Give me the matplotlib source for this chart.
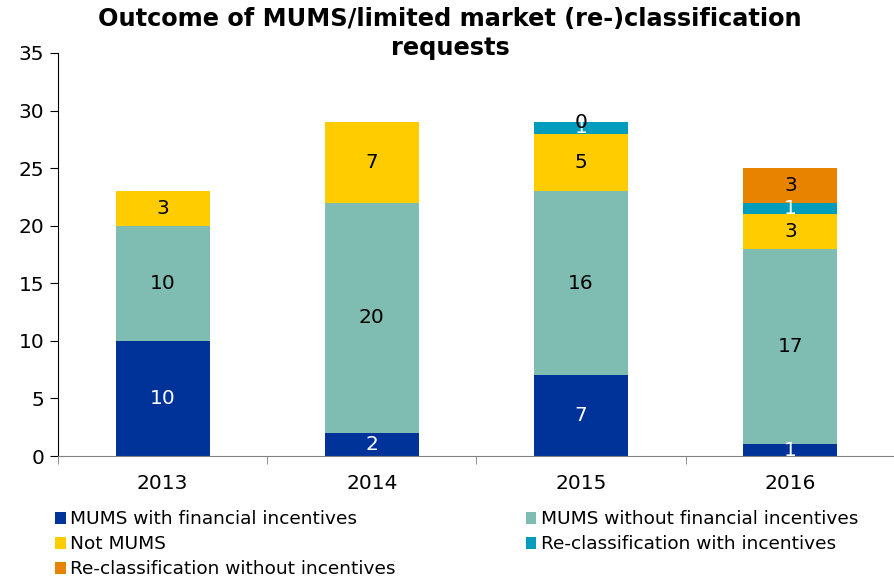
import matplotlib
matplotlib.use("Agg")
import matplotlib.pyplot as plt
import numpy as np

years = ["2013", "2014", "2015", "2016"]
series_names = ["MUMS with financial incentives", "MUMS without financial incentives",
                "Not MUMS", "Re-classification with incentives", "Re-classification without incentives"]
mums_fin = [10, 2, 7, 1]
mums_nofin = [10, 20, 16, 17]
not_mums = [3, 7, 5, 3]
reclass_inc = [0, 0, 1, 1]
reclass_noinc = [0, 0, 0, 3]
# which labels are shown (None = not labelled)
labels_shown = [
    [10, 2, 7, 1],
    [10, 20, 16, 17],
    [3, 7, 5, 3],
    [None, None, 1, 1],
    [None, None, 0, 3],
]
yticks = [0, 5, 10, 15, 20, 25, 30, 35]

colors = ["#003399", "#7fbcb1", "#ffcc00", "#009cbb", "#e88300"]
label_colors = ["white", "black", "black", "white", "black"]

W, H = 895, 581
fig = plt.figure(figsize=(W / 100, H / 100), dpi=100)
ax = fig.add_axes([58 / W, (H - 456) / H, (W - 58) / W, (456 - 53) / H])

x = np.arange(len(years))
data = [mums_fin, mums_nofin, not_mums, reclass_inc, reclass_noinc]
bottom = np.zeros(len(years))
handles = []
for i, (vals, name) in enumerate(zip(data, series_names)):
    v = np.array(vals, dtype=float)
    b = ax.bar(x, v, 0.45, bottom=bottom, color=colors[i], label=name, linewidth=0)
    handles.append(b)
    for j in range(len(years)):
        lab = labels_shown[i][j]
        if lab is not None:
            ax.text(x[j], bottom[j] + v[j] / 2, str(lab), ha="center", va="center",
                    fontsize=14.5, color=label_colors[i], zorder=5)
    bottom += v

ax.set_xlim(-0.5, -0.5 + (W - 58) / 211.0)
ax.set_ylim(0, 35)
ax.set_yticks(yticks)
ax.set_yticklabels([str(t) for t in yticks], fontsize=14.5)
ax.set_xticks(x)
ax.set_xticklabels(years, fontsize=14.5)
ax.tick_params(axis="x", length=0, pad=13)
ax.set_xticks(np.arange(len(years) + 1) - 0.5, minor=True)
ax.tick_params(axis="x", which="minor", length=6, color="#808080")
ax.tick_params(axis="y", length=6, direction="out", pad=4)
for s in ["top", "right"]:
    ax.spines[s].set_visible(False)
ax.spines["bottom"].set_color("#808080")
ax.spines["left"].set_color("black")

fig.text(0.503, 1 - 7 / H, "Outcome of MUMS/limited market (re-)classification\nrequests",
         ha="center", va="top", fontsize=17.3, fontweight="bold", linespacing=1.25)

order = [0, 2, 4, 1, 3]
leg = fig.legend([handles[k] for k in order], [series_names[k] for k in order],
                 loc="upper left", bbox_to_anchor=(48 / W, 1 - 503 / H), ncol=2,
                 frameon=False, fontsize=13.3, handlelength=0.55, handleheight=0.6,
                 handletextpad=0.25, columnspacing=7.06, labelspacing=0.38, borderaxespad=0)

fig.savefig("out.png", dpi=100)
